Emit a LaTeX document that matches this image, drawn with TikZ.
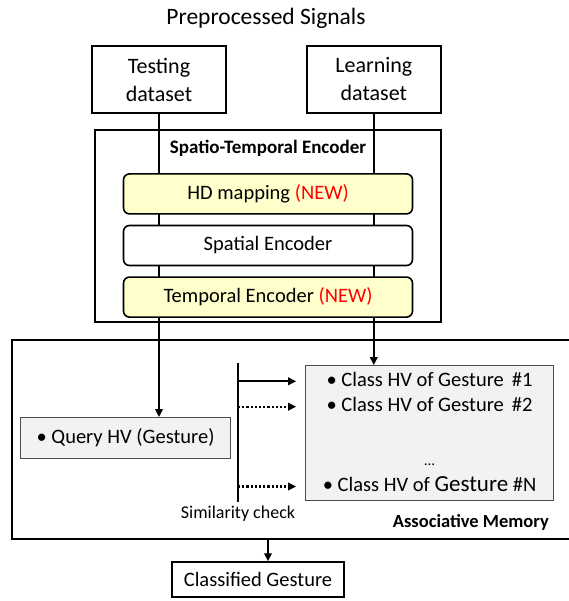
\documentclass[tikz,border=0pt]{standalone}
\usepackage{fontspec}
\setmainfont{Carlito}
\usepackage{tikz}
\usetikzlibrary{positioning, arrows.meta, backgrounds}
\definecolor{newred}{HTML}{FF0000}
\definecolor{hdyellow}{HTML}{FFFFCC}
\definecolor{hvgrey}{HTML}{F2F2F2}

\begin{document}
\begin{tikzpicture}[
    font=\fontsize{20.5}{24}\selectfont,
    frame/.style={draw, line width=1.8pt, inner sep=0pt},
    stage/.style={draw, line width=1.6pt, rounded corners=6pt, minimum width=289pt, minimum height=40pt, inner sep=0pt},
    hvbox/.style={draw=black!70, line width=0.9pt, fill=hvgrey, inner sep=0pt},
    hvline/.style={inner sep=0pt, text height=14pt, text depth=4pt},
    arrowline/.style={draw, line width=2pt, -{Triangle[length=8pt,width=7.5pt]}},
    dotline/.style={arrowline, line width=2.2pt, dash pattern=on 2.2pt off 2pt},
  ]
  \useasboundingbox (0,0) rectangle (568pt,-601pt);

  % Inputs
  \node[font=\fontsize{23.5}{28}\selectfont] (title) at (266pt,-18pt) {Preprocessed Signals};
  \node[frame, minimum width=134pt, minimum height=67pt, align=center, font=\fontsize{22}{28}\selectfont] (test) at (159pt,-79.5pt) {Testing\\dataset};
  \node[frame, minimum width=134pt, minimum height=67pt, align=center, font=\fontsize{22}{28}\selectfont, right=79pt of test] (learn) {Learning\\dataset};

  % Encoder
  \node[frame, minimum width=346pt, minimum height=192pt] (encoder) at (268pt,-226pt) {};
  \node[inner sep=0pt, font=\bfseries\fontsize{19}{22}\selectfont, below=11pt of encoder.north] (enctitle) {Spatio-Temporal Encoder};
  \node[stage, fill=hdyellow, below=44pt of encoder.north] (hdmap) {HD mapping \textcolor{newred}{(NEW)}};
  \node[stage, fill=white, below=10pt of hdmap] (spatial) {Spatial Encoder};
  \node[stage, fill=hdyellow, below=10pt of spatial] (temporal) {Temporal Encoder \textcolor{newred}{(NEW)}};

  % Associative memory
  \node[frame, minimum width=560pt, minimum height=199pt] (am) at (292pt,-439.5pt) {};
  \node[hvbox, minimum width=210pt, minimum height=41pt, below right=78pt and 9pt of am.north west] (query) {\textbullet\ Query HV (Gesture)};
  \node[hvbox, minimum width=248pt, minimum height=135pt, below right=26pt and 294pt of am.north west] (class) {};
  \node[hvline, below=7pt of class.north] (c1) {\textbullet\ Class HV of Gesture~\,\#1};
  \node[hvline, below=7pt of c1] (c2) {\textbullet\ Class HV of Gesture~\,\#2};
  \node[hvline, font=\fontsize{15}{16}\selectfont, below=35pt of c2] (cdots) {\ldots};
  \node[hvline, below=8pt of cdots] (cN) {\textbullet\ Class HV of {\fontsize{23}{26}\selectfont Gesture} \#N};
  \coordinate (simtop) at (238pt,-363pt);
  \coordinate (simbot) at (238pt,-502pt);
  \node[inner sep=0pt, font=\fontsize{18}{20}\selectfont, below=4pt of simbot] (simlabel) {Similarity check};
  \node[inner sep=0pt, font=\bfseries\fontsize{18.5}{21}\selectfont, below left=13pt and 5pt of class.south east] (amlabel) {Associative Memory};

  % Output
  \node[frame, line width=1.4pt, minimum width=172pt, minimum height=35pt] (result) at (258pt,-579.5pt) {Classified Gesture};

  % Connectors
  \begin{scope}[on background layer]
    \draw[arrowline] (test.south) -- (test.south |- query.north);
    \draw[arrowline] (learn.south) -- (learn.south |- class.north);
  \end{scope}
  \draw[line width=2pt] (simtop) -- (simbot);
  \draw[arrowline, shorten >=9pt] (simtop |- c1) -- (class.west |- c1);
  \draw[dotline, shorten >=9pt] (simtop |- c2) -- (class.west |- c2);
  \draw[dotline, shorten >=9pt] (simtop |- cN) -- (class.west |- cN);
  \draw[arrowline] (encoder.center |- am.south) -- (encoder.center |- result.north);
\end{tikzpicture}
\end{document}
